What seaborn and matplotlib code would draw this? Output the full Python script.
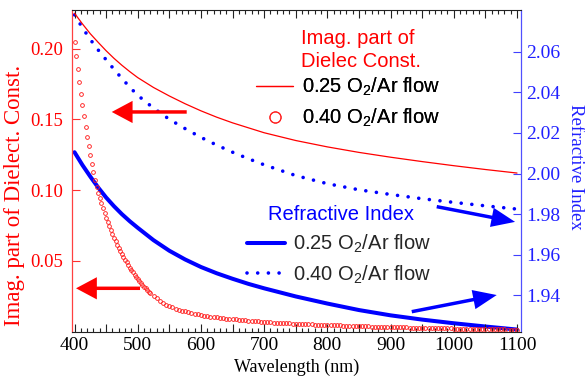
import numpy as np
import matplotlib
matplotlib.use("Agg")
import matplotlib.pyplot as plt
import seaborn as sns
from matplotlib.lines import Line2D
from matplotlib.ticker import MultipleLocator, FuncFormatter, FixedLocator, FormatStrFormatter

# ---------------- data ----------------
wavelength = [400, 412.5, 425, 437.5, 450, 462.5, 475, 487.5, 500, 525, 550,
              575, 600, 625, 650, 675, 700, 750, 800, 850, 900, 950, 1000,
              1050, 1100]
imag_025 = [0.2250, 0.2175, 0.2105, 0.2044, 0.1985, 0.1931, 0.1882, 0.1837,
            0.1795, 0.1725, 0.1665, 0.1610, 0.1560, 0.1515, 0.1475, 0.1440,
            0.1405, 0.1350, 0.1305, 0.1266, 0.1232, 0.1201, 0.1172, 0.1145,
            0.1120]
ri_025 = [2.0105, 2.0042, 1.9985, 1.9931, 1.9882, 1.9839, 1.9800, 1.9765,
          1.9733, 1.9672, 1.9620, 1.9577, 1.9540, 1.9509, 1.9482, 1.9457,
          1.9435, 1.9395, 1.9360, 1.9328, 1.9302, 1.9281, 1.9263, 1.9247,
          1.9232]
ri_040 = [2.0781, 2.0718, 2.0660, 2.0608, 2.0560, 2.0513, 2.0468, 2.0425,
          2.0385, 2.0322, 2.0267, 2.0221, 2.0178, 2.0140, 2.0105, 2.0073,
          2.0043, 1.9990, 1.9950, 1.9920, 1.9897, 1.9876, 1.9858, 1.9841,
          1.9825]

# 0.40 O2/Ar imaginary part (hollow circles), 400-517.5 nm every 2.5 nm
wl_fine = np.arange(400, 520, 2.5)
imag_040_fine = [
    0.2050, 0.1950, 0.1856, 0.1766, 0.1680, 0.1598, 0.1521, 0.1448,
    0.1377, 0.1310, 0.1246, 0.1185, 0.1128, 0.1073, 0.1020, 0.0980,
    0.0942, 0.0905, 0.0870, 0.0836, 0.0803, 0.0773, 0.0744, 0.0716,
    0.0689, 0.0663, 0.0638, 0.0614, 0.0591, 0.0569, 0.0548, 0.0527,
    0.0507, 0.0488, 0.0469, 0.0451, 0.0434, 0.0417, 0.0401, 0.0386,
    0.0371, 0.0357, 0.0343, 0.0330, 0.0317, 0.0305, 0.0293, 0.0282]
# 520-1100 nm every 5 nm
wl_tail = np.arange(520, 1101, 5)
imag_040_tail = [
    0.0271, 0.0251, 0.0233, 0.0216, 0.0200, 0.0190, 0.0180, 0.0171, 0.0162, 0.0154,
    0.0146, 0.0141, 0.0135, 0.0130, 0.0125, 0.0120, 0.0116, 0.0112, 0.0109, 0.0105,
    0.0102, 0.0099, 0.0096, 0.0094, 0.0091, 0.0089, 0.0087, 0.0085, 0.0083, 0.0081,
    0.0079, 0.0077, 0.0075, 0.0073, 0.0072, 0.0070, 0.0068, 0.0066, 0.0065, 0.0063,
    0.0062, 0.0060, 0.0059, 0.0058, 0.0057, 0.0056, 0.0055, 0.0054, 0.0053, 0.0052,
    0.0051, 0.0050, 0.0049, 0.0048, 0.0047, 0.0046, 0.0045, 0.0044, 0.0043, 0.0043,
    0.0042, 0.0041, 0.0040, 0.0039, 0.0039, 0.0038, 0.0037, 0.0036, 0.0036, 0.0035,
    0.0034, 0.0033, 0.0033, 0.0032, 0.0031, 0.0031, 0.0030, 0.0030, 0.0029, 0.0029,
    0.0028, 0.0028, 0.0027, 0.0027, 0.0026, 0.0026, 0.0025, 0.0025, 0.0024, 0.0024,
    0.0023, 0.0023, 0.0022, 0.0022, 0.0021, 0.0021, 0.0020, 0.0020, 0.0019, 0.0019,
    0.0018, 0.0018, 0.0017, 0.0017, 0.0017, 0.0016, 0.0016, 0.0016, 0.0015, 0.0015,
    0.0014, 0.0014, 0.0014, 0.0013, 0.0013, 0.0012, 0.0012]

wl_circ = np.concatenate([wl_fine, wl_tail])
imag_040 = np.array(imag_040_fine + imag_040_tail)

left_ticks = [0.05, 0.10, 0.15, 0.20]
right_ticks = [1.94, 1.96, 1.98, 2.00, 2.02, 2.04, 2.06]
legend_labels = ["0.25 O$_2$/Ar flow", "0.40 O$_2$/Ar flow"]

# ---------------- style ----------------
sns.set_theme(style="white")
plt.rcParams["font.family"] = ["Liberation Serif", "DejaVu Serif"]
plt.rcParams["mathtext.fontset"] = "custom"
plt.rcParams["mathtext.rm"] = "Liberation Sans"
plt.rcParams["mathtext.it"] = "Liberation Sans:italic"
plt.rcParams["mathtext.bf"] = "Liberation Sans:bold"

RED = "#ff0000"
BLUE = "#0000ff"
W, H = 585, 377
L, R, T, B = 71.5, 521.0, 10.0, 332.0

fig = plt.figure(figsize=(W / 100, H / 100), dpi=100)
fig.patch.set_facecolor("white")
ax = fig.add_axes([L / W, 1 - B / H, (R - L) / W, (B - T) / H])
ax2 = ax.twinx()
ax.set_zorder(ax2.get_zorder() + 1)
ax.patch.set_visible(False)

DOT = (0, (0.01, 2.95))

# ---------------- data marks ----------------
sns.lineplot(x=wavelength, y=ri_025, ax=ax2, color=BLUE, linewidth=2.9)
sns.lineplot(x=wavelength, y=ri_040, ax=ax2, color=BLUE, linewidth=2.6,
             linestyle=DOT, dash_capstyle="round")
sns.lineplot(x=wavelength, y=imag_025, ax=ax, color=RED, linewidth=0.9)
sns.lineplot(x=wl_circ, y=imag_040, ax=ax, color=RED, linestyle="none",
             marker="o", markersize=2.7, markerfacecolor="none",
             markeredgecolor="#ff2020", markeredgewidth=0.65)

# ---------------- axes ----------------
ax.set_xlim(395.25, 1106.3)
ax.set_ylim(-0.0004, 0.2273)
ax2.set_ylim(1.9220, 2.0805)

ax.xaxis.set_major_locator(MultipleLocator(50))
ax.xaxis.set_minor_locator(MultipleLocator(10))
ax.xaxis.set_major_formatter(FuncFormatter(
    lambda v, p: f"{int(round(v))}" if int(round(v)) % 100 == 0 else ""))
ax.yaxis.set_major_locator(FixedLocator(left_ticks))
ax.yaxis.set_major_formatter(FormatStrFormatter("%.2f"))
ax2.yaxis.set_major_locator(FixedLocator(right_ticks))
ax2.yaxis.set_major_formatter(FormatStrFormatter("%.2f"))

ax.tick_params(axis="x", which="both", direction="in", top=True, bottom=True,
               color="#222222", width=0.8, labelsize=14, pad=3.5, labelcolor="black")
ax.tick_params(axis="x", which="major", length=5.5)
ax.tick_params(axis="x", which="minor", length=3)
ax.tick_params(axis="y", which="major", direction="in", length=6, width=0.8,
               color="#ff3030", labelcolor=RED, labelsize=13.5, pad=6,
               left=True, right=False)
ax2.tick_params(axis="y", which="major", direction="in", length=6, width=0.8,
                color="#4040ff", labelcolor="#2020ff", labelsize=14, pad=4)

for s in ["top", "bottom"]:
    ax.spines[s].set_color("#222222")
    ax.spines[s].set_linewidth(0.8)
ax.spines["left"].set_color("#ff4040")
ax.spines["left"].set_linewidth(0.9)
ax.spines["right"].set_visible(False)
for s in ["left", "top", "bottom"]:
    ax2.spines[s].set_visible(False)
ax2.spines["right"].set_color("#5050ff")
ax2.spines["right"].set_linewidth(0.9)

def fx(px):
    return (px - L) / (R - L)

def fy(py):
    return (B - py) / (B - T)

ax.set_xlabel("Wavelength (nm)", fontsize=13, color="black")
ax.xaxis.set_label_coords(fx(297), fy(358.8))
ax.set_ylabel("Imag. part of Dielect. Const.", fontsize=16.5, color=RED)
ax.yaxis.set_label_coords(fx(25), fy(195))
ax2.set_ylabel("Refractive Index", fontsize=13.5, color="#2020ff", rotation=270,
               va="bottom")
ax2.yaxis.set_label_coords(fx(567), fy(167))

# ---------------- legends ----------------
sans = {"family": "Liberation Sans", "size": 14.5}
red_handles = [Line2D([], [], color=RED, lw=0.9),
               Line2D([], [], linestyle="none", marker="o", markersize=8,
                      markerfacecolor="none", markeredgecolor="#ff2020",
                      markeredgewidth=0.8)]
leg1 = ax.legend(red_handles, legend_labels, loc="upper left",
                 bbox_to_anchor=(fx(256), fy(76)), frameon=False, prop=sans,
                 handlelength=1.84, handletextpad=0.45, labelspacing=0.43,
                 borderpad=0, borderaxespad=0)
for t in leg1.get_texts():
    t.set_color("black")
ax.add_artist(leg1)

blue_handles = [Line2D([], [], color=BLUE, lw=2.9),
                Line2D([], [], color=BLUE, lw=2.6, linestyle=DOT,
                       dash_capstyle="round")]
leg2 = ax2.legend(blue_handles, legend_labels, loc="upper left",
                  bbox_to_anchor=(fx(246.7), fy(233)), frameon=False, prop=sans,
                  handlelength=1.9, handletextpad=0.4, labelspacing=0.40,
                  borderpad=0, borderaxespad=0)

ax.text(fx(301), fy(43.5), "Imag. part of", transform=ax.transAxes, color=RED,
        fontsize=14.5, family="Liberation Sans", va="baseline", ha="left")
ax.text(fx(301), fy(67), "Dielec Const.", transform=ax.transAxes, color=RED,
        fontsize=14.5, family="Liberation Sans", va="baseline", ha="left")
ax2.text(fx(268.5), fy(220), "Refractive Index", transform=ax.transAxes,
         color=BLUE, fontsize=14.5, family="Liberation Sans", va="baseline",
         ha="left")

# ---------------- arrows ----------------
red_arrow = dict(facecolor=RED, edgecolor="none", width=2.5, headwidth=16,
                 headlength=15, shrink=0)
ax.annotate("", xy=(458.9, 0.1552), xytext=(577.5, 0.1552), arrowprops=red_arrow)
ax.annotate("", xy=(402.4, 0.0305), xytext=(503.6, 0.0305), arrowprops=red_arrow)
blue_arrow = dict(facecolor=BLUE, edgecolor="none", width=2.5, headwidth=14,
                  headlength=17, shrink=0)
ax2.annotate("", xy=(1096.9, 1.9762), xytext=(973.0, 1.9837), arrowprops=blue_arrow)
ax2.annotate("", xy=(1067.9, 1.9402), xytext=(933.5, 1.9320), arrowprops=blue_arrow)

fig.savefig("out.png", dpi=100, facecolor="white")
